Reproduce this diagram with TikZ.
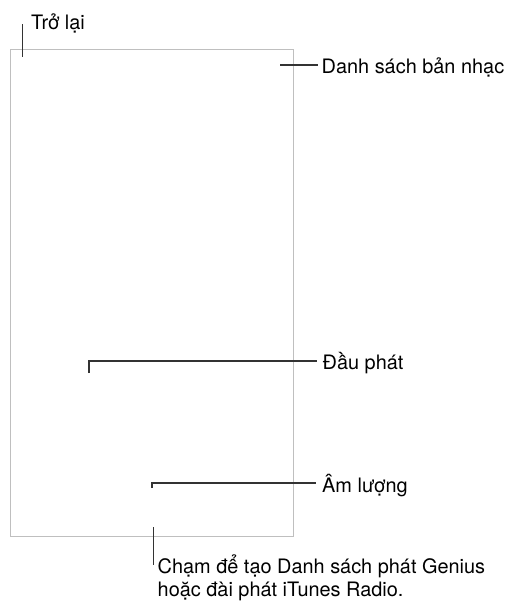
\documentclass[tikz,border=0pt]{standalone}
\usepackage{fontspec}
\setmainfont{TeX Gyre Heros}
\usetikzlibrary{positioning}

\begin{document}
\begin{tikzpicture}[x=1pt, y=-1pt,
  callout/.style={draw=black!80, line width=1.1pt},
  lbl/.style={font=\fontsize{19.9}{23}\selectfont, inner sep=0pt, anchor=base west, align=left}]
\useasboundingbox (0,0) rectangle (507,602);

% Screen
\draw[black!25, line width=1pt] (10,50) rectangle (293,536);

% Labels
\node[lbl] (back) at (31,30) {Trở lại};
\node[lbl] (playlist) at (321.5,73.5) {Danh sách bản nhạc};
\node[lbl] (player) at (322.5,369.5) {Đầu phát};
\node[lbl] (volume) at (322,492) {Âm lượng};
\node[lbl] (genius) at (157.5,596.5) {Chạm để tạo Danh sách phát Genius\\hoặc đài phát iTunes Radio.};

% Points on the screen
\coordinate (backpt) at (22.7,57);
\coordinate (listpt) at (280,65);
\coordinate (playerpt) at (89,373);
\coordinate (volumept) at (152,488);
\coordinate (geniuspt) at (153.5,527);

% Ends next to the labels
\coordinate (backend) at ([xshift=-8.3pt,yshift=6pt]back.base west);
\coordinate (geniusend) at ([xshift=-4pt,yshift=31.5pt]genius.base west);

% Callouts
\draw[callout] (backpt) -- (backend);
\draw[callout] (listpt) -- ([xshift=-4pt,yshift=8.5pt]playlist.base west);
\draw[callout] (playerpt) |- ([xshift=-6pt,yshift=8.5pt]player.base west);
\draw[callout] (volumept) |- ([xshift=-6pt,yshift=9pt]volume.base west);
\draw[callout] (geniuspt) -- (geniusend);
\end{tikzpicture}
\end{document}
